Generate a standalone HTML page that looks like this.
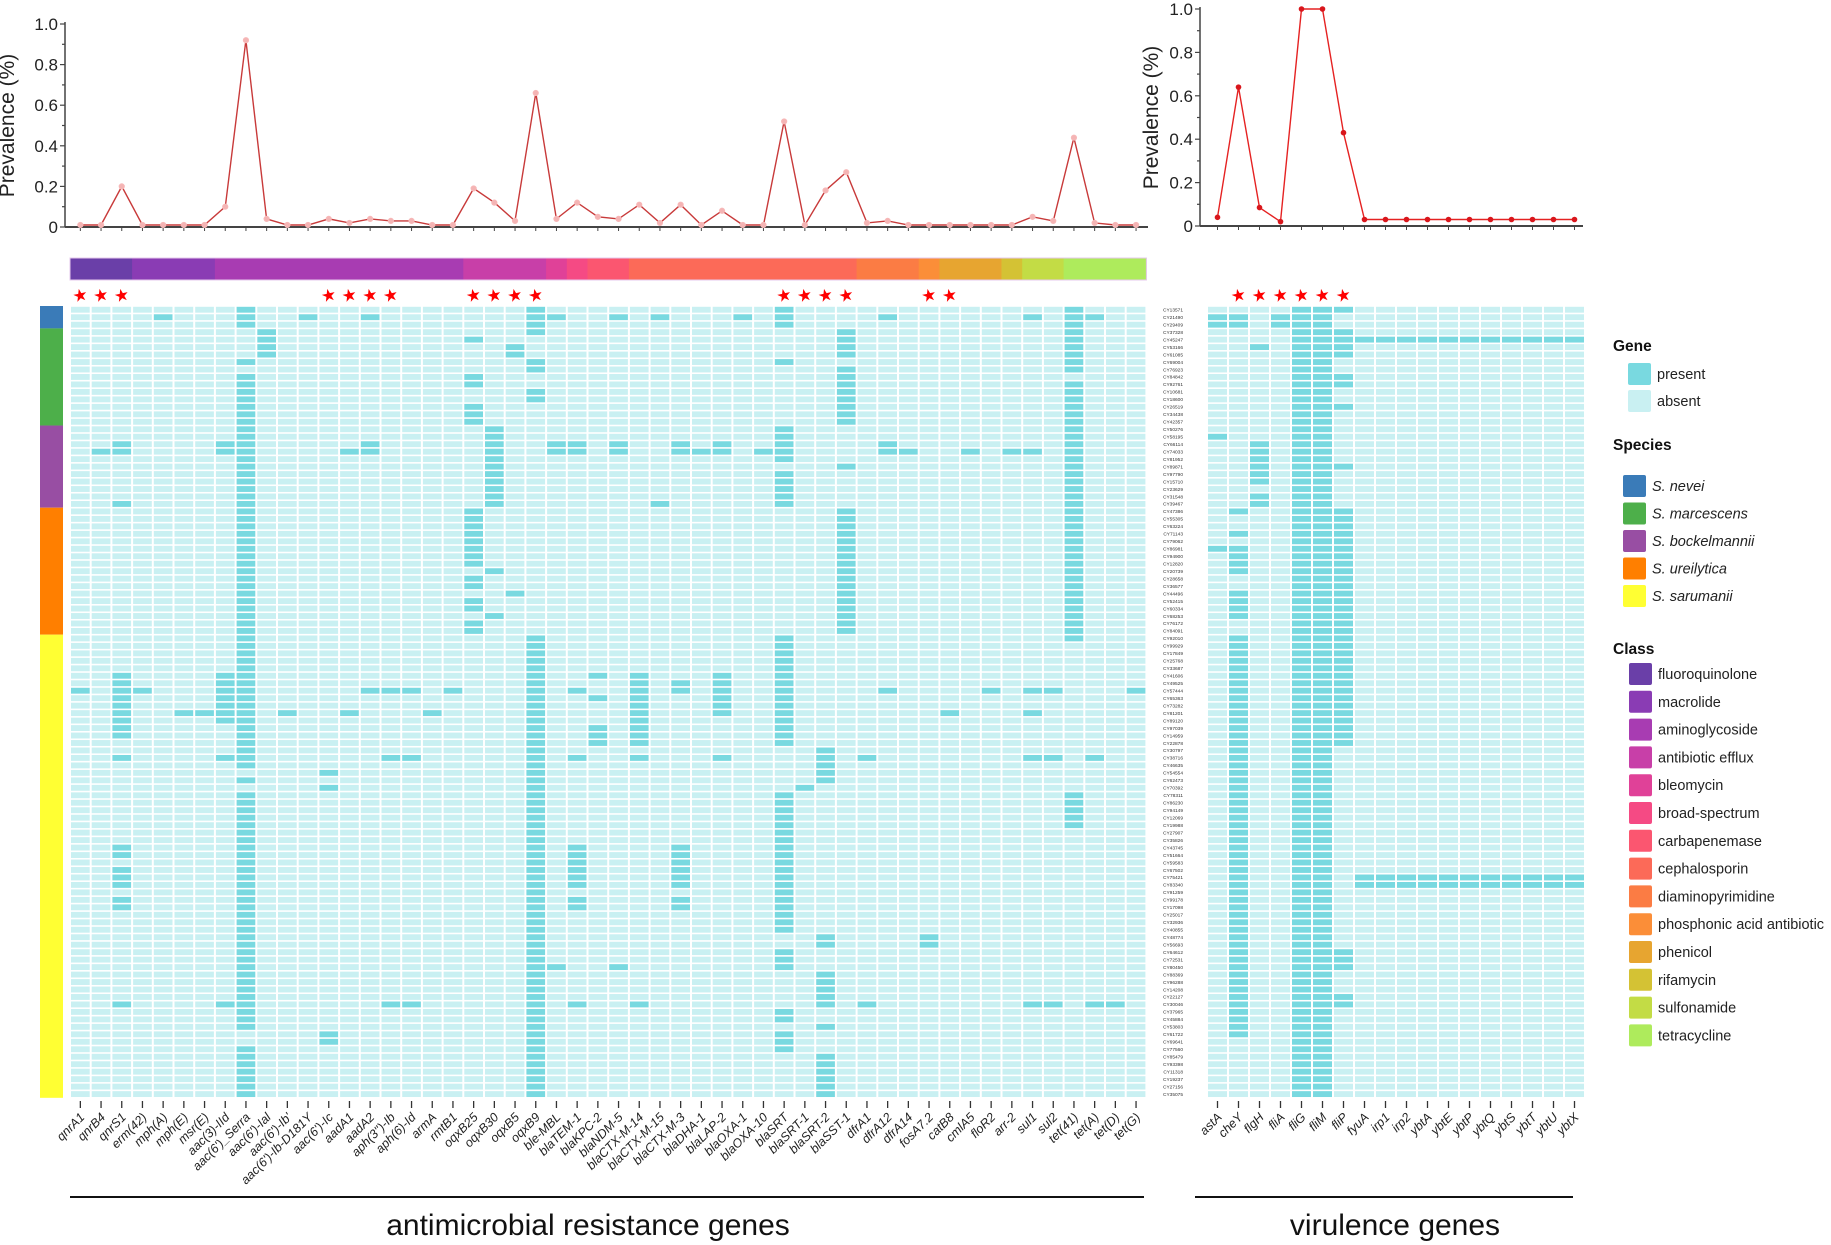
<!DOCTYPE html>
<html><head><meta charset="utf-8"><title>Serratia AMR and virulence gene prevalence</title>
<style>
html,body{margin:0;padding:0;background:#fff;}
svg{display:block;font-family:"Liberation Sans",Arial,sans-serif;}
</style></head>
<body>
<svg id="fig" width="1831" height="1245" viewBox="0 0 1831 1245" xmlns="http://www.w3.org/2000/svg"></svg>
<script>
// ---------- data ----------
const amrGenes = ["qnrA1","qnrB4","qnrS1","erm(42)","mph(A)","mph(E)","msr(E)","aac(3)-IId","aac(6')_Serra","aac(6')-Ial","aac(6')-Ib'","aac(6')-Ib-D181Y","aac(6')-Ic","aadA1","aadA2","aph(3'')-Ib","aph(6)-Id","armA","rmtB1","oqxB25","oqxB30","oqxB5","oqxB9","ble-MBL","blaTEM-1","blaKPC-2","blaNDM-5","blaCTX-M-14","blaCTX-M-15","blaCTX-M-3","blaDHA-1","blaLAP-2","blaOXA-1","blaOXA-10","blaSRT","blaSRT-1","blaSRT-2","blaSST-1","dfrA1","dfrA12","dfrA14","fosA7.2","catB8","cmlA5","floR2","arr-2","sul1","sul2","tet(41)","tet(A)","tet(D)","tet(G)"];
const amrPrevalence = [0.01,0.01,0.2,0.01,0.01,0.01,0.01,0.1,0.92,0.04,0.01,0.01,0.04,0.02,0.04,0.03,0.03,0.01,0.01,0.19,0.12,0.03,0.66,0.04,0.12,0.05,0.04,0.11,0.02,0.11,0.01,0.08,0.01,0.01,0.52,0.01,0.18,0.27,0.02,0.03,0.01,0.01,0.01,0.01,0.01,0.01,0.05,0.03,0.44,0.02,0.01,0.01];
const amrStarred = [0,1,2,12,13,14,15,19,20,21,22,34,35,36,37,41,42];
const amrPresent = ["51","19","18,19,26,49-57,60,72,73,75-77,79,80,93","51","1","54","54","18,19,49-55,60,93","0-2,7,9-61,63,65-96,99-105","3-6","54","1","62,64,97,98","19,54","1,18,19,51","51,60,93","51,60,93","54","51","4,9,10,13-15,27-34,36,37,39,40,42,43","16-26,35,41","5,6,38","0-3,7,8,11,12,44-105","1,18,19,88","18,19,51,60,72-77,79,80,93","49,52,56-58","1,18,19,88","49-58,60,93","1,26","18,19,50,51,72-77,79,80","19","18,19,49-54,60","1","19","0-2,7,16-20,22-26,44-58,65-83,86-88,94,95,97-99","64","59-63,84,85,89-93,96,100-105","3-6,8-15,21,27-43","60,93","1,18,19,51","19","84,85","54","19","51","19","1,19,51,54,60,93","51,60,93","0-8,10-44,65-69","1,60,93","93","51"];
const virGenes = ["astA","cheY","flgH","fliA","fliG","fliM","fliP","fyuA","irp1","irp2","ybtA","ybtE","ybtP","ybtQ","ybtS","ybtT","ybtU","ybtX"];
const virPrevalence = [0.04,0.64,0.085,0.02,1.0,1.0,0.43,0.03,0.03,0.03,0.03,0.03,0.03,0.03,0.03,0.03,0.03,0.03];
const virStarred = [1,2,3,4,5,6];
const virPresent = ["1,2,17,32","1,2,27,30,32-35,38-41,44-97","5,18-23,25,26","1,2","0-105","0-105","0,3-6,9,10,13,21,27-58,86-88,92,93","4,76,77","4,76,77","4,76,77","4,76,77","4,76,77","4,76,77","4,76,77","4,76,77","4,76,77","4,76,77","4,76,77"];
const speciesNames = ["S. nevei","S. marcescens","S. bockelmannii","S. ureilytica","S. sarumanii"];
const speciesCounts = [3,13,11,17,62];
const speciesColors = ["#3a7bb8","#4daf4a","#984ea3","#ff7f00","#ffff33"];
const classNames = ["fluoroquinolone","macrolide","aminoglycoside","antibiotic efflux","bleomycin","broad-spectrum","carbapenemase","cephalosporin","diaminopyrimidine","phosphonic acid antibiotic","phenicol","rifamycin","sulfonamide","tetracycline"];
const classCounts = [3,4,12,4,1,1,2,11,3,1,3,1,2,4];
const classColors = ["#6a3fa8","#8a3cb4","#a83cb2","#c83fa8","#e04198","#f54a84","#fb5670","#fc6a58","#fb7c44","#fb8e38","#e7a530","#d4c234","#c3dc45","#aeeb5c"];
const rowLabels = [];
for (let i = 0; i < 106; i++) { rowLabels.push("CY" + String(10000 + ((i * 7919 + 3571) % 89999)).padStart(5, "0")); }

// ---------- layout ----------
const NS = "http://www.w3.org/2000/svg";
const svg = document.getElementById("fig");
const PRESENT = "#79d9e0", ABSENT = "#c9f0f2";
const amrX0 = 70, amrCW = 20.7, virX0 = 1207, virCW = 21;
const heatY0 = 306, rowH = 7.47, nRows = 106;
function mk(tag, attrs, parent) {
  const e = document.createElementNS(NS, tag);
  for (const k in attrs) e.setAttribute(k, attrs[k]);
  (parent || svg).appendChild(e);
  return e;
}
function parseRows(s) {
  const set = new Set();
  s.split(",").forEach(p => {
    if (!p) return;
    const ab = p.split("-").map(Number);
    if (ab.length === 1) set.add(ab[0]); else for (let r = ab[0]; r <= ab[1]; r++) set.add(r);
  });
  return set;
}
const amrCx = k => amrX0 + amrCW * k + amrCW / 2;
const virCx = k => virX0 + virCW * k + virCW / 2;
const rowY = r => heatY0 + rowH * r;

// ---------- line chart ----------
function lineChart(name, genes, vals, cx, axisX, axisRight, yTop, yBot, lineColor, markerColor, markerType, titleX) {
  const g = mk("g", {});
  
  
  const yS = v => yBot - (yBot - yTop) * v;
  const yAxis = mk("line", {x1: axisX, y1: yTop - 2, x2: axisX, y2: yBot, stroke: "#444", "stroke-width": 1.5}, g);
  
  
  const xAxis = mk("line", {x1: axisX, y1: yBot, x2: axisRight, y2: yBot, stroke: "#444", "stroke-width": 2}, g);
  
  
  for (let i = 0; i <= 10; i++) {
    const v = i / 10, y = yS(v);
    mk("line", {x1: axisX - (i % 2 ? 3 : 5), y1: y, x2: axisX, y2: y, stroke: "#444", "stroke-width": 1.2}, g);
    if (i % 2 === 0) {
      const t = mk("text", {x: axisX - 7, y: y + 6, "text-anchor": "end", "font-size": 17, fill: "#222"}, g);
      t.textContent = i === 0 ? "0" : v.toFixed(1);
      
      
    }
  }
  genes.forEach((gname, k) => {
    mk("line", {x1: cx(k), y1: yBot, x2: cx(k), y2: yBot + 4, stroke: "#444", "stroke-width": 1}, g);
  });
  const title = mk("text", {x: titleX, y: (yTop + yBot) / 2, "text-anchor": "middle", "font-size": 21, fill: "#222", transform: "rotate(-90 " + titleX + " " + (yTop + yBot) / 2 + ")"}, g);
  title.textContent = "Prevalence (%)";
  
  
  const pts = vals.map((v, k) => cx(k).toFixed(1) + "," + yS(v).toFixed(1)).join(" ");
  const pl = mk("polyline", {points: pts, fill: "none", stroke: lineColor, "stroke-width": 1.4}, g);
  
  
  vals.forEach((v, k) => {
    let m;
    if (markerType === "dot") m = mk("circle", {cx: cx(k), cy: yS(v), r: 2.8, fill: markerColor}, g);
    else m = mk("circle", {cx: cx(k), cy: yS(v), r: 2.6, fill: markerColor, stroke: "#f7b8b8", "stroke-width": 1}, g);
    
    
  });
}
lineChart("amr-prevalence-chart", amrGenes, amrPrevalence, amrCx, 65, 1148, 24, 227, "#c83a3a", "#f4b4b4", "star", 14);
lineChart("virulence-prevalence-chart", virGenes, virPrevalence, virCx, 1200, 1583, 9, 226, "#e52222", "#d9161c", "dot", 1158);

// ---------- class color bar ----------
(function () {
  const g = mk("g", {});
  
  
  let c = 0;
  classCounts.forEach((n, i) => {
    const r = mk("rect", {x: amrX0 + c * amrCW, y: 258, width: n * amrCW + 0.5, height: 22, fill: classColors[i]}, g);
    
    
    c += n;
  });
  mk("rect", {x: amrX0, y: 258, width: c * amrCW, height: 22, fill: "none", stroke: "#e6c8ec", "stroke-width": 1}, g);
})();

// ---------- stars ----------
function stars(list, cx) {
  list.forEach(k => {
    const t = mk("text", {x: cx(k), y: 301, "text-anchor": "middle", "font-size": 17, fill: "#ff0000", transform: "rotate(-12 " + cx(k) + " 296)"});
    t.textContent = "★";
    
    
  });
}
stars(amrStarred, amrCx);
stars(virStarred, virCx);

// ---------- species bar ----------
(function () {
  let r0 = 0;
  speciesCounts.forEach((n, i) => {
    const r = mk("rect", {x: 40, y: rowY(r0), width: 23, height: n * rowH, fill: speciesColors[i]});
    
    
    r0 += n;
  });
})();

// ---------- heatmaps ----------
function heatmap(name, genes, present, x0, cw) {
  const g = mk("g", {});
  
  
  genes.forEach((gn, k) => {
    const set = parseRows(present[k]);
    for (let r = 0; r < nRows; r++) {
      const cell = mk("rect", {x: x0 + cw * k + 1, y: rowY(r) + 0.8, width: cw - 2, height: rowH - 1.6, fill: set.has(r) ? PRESENT : ABSENT}, g);
      
      
    }
  });
}
heatmap("amr-heatmap", amrGenes, amrPresent, amrX0, amrCW);
heatmap("virulence-heatmap", virGenes, virPresent, virX0, virCW);

// row labels
rowLabels.forEach((l, r) => {
  const t = mk("text", {x: 1183, y: rowY(r) + 5.5, "text-anchor": "end", "font-size": 4.8, fill: "#333"});
  t.textContent = l;
  
  
});

// ---------- gene labels ----------
function geneLabels(genes, cx) {
  genes.forEach((gn, k) => {
    const x = cx(k);
    const tk = mk("line", {x1: x, y1: 1101, x2: x, y2: 1108, stroke: "#333", "stroke-width": 1.3});
    
    
    const t = mk("text", {x: x + 5, y: 1118, "text-anchor": "end", "font-size": 12.5, "font-style": "italic", fill: "#222", transform: "rotate(-45 " + (x + 5) + " 1118)"});
    t.textContent = gn;
    
    
  });
}
geneLabels(amrGenes, amrCx);
geneLabels(virGenes, virCx);

// group lines and titles
(function () {
  const l1 = mk("line", {x1: 70, y1: 1197, x2: 1144, y2: 1197, stroke: "#111", "stroke-width": 2});
  
  
  const l2 = mk("line", {x1: 1195, y1: 1197, x2: 1573, y2: 1197, stroke: "#111", "stroke-width": 2});
  
  
  const t1 = mk("text", {x: 588, y: 1235, "text-anchor": "middle", "font-size": 30, fill: "#111"});
  t1.textContent = "antimicrobial resistance genes";
  
  
  const t2 = mk("text", {x: 1395, y: 1235, "text-anchor": "middle", "font-size": 30, fill: "#111"});
  t2.textContent = "virulence genes";
  
  
})();

// ---------- legend ----------
(function () {
  const g = mk("g", {});
  
  
  function title(txt, y) {
    const t = mk("text", {x: 1613, y: y, "font-size": 15.5, "font-weight": "bold", fill: "#111"}, g);
    t.textContent = txt;
    
    
  }
  function entry(x, y, color, txt, italic) {
    const r = mk("rect", {x: x, y: y - 11, width: 23, height: 22, rx: 2, fill: color}, g);
    
    
    const t = mk("text", {x: x + 29, y: y + 5, "font-size": 14.5, fill: "#222", "font-style": italic ? "italic" : "normal"}, g);
    t.textContent = txt;
    
    
  }
  title("Gene", 351);
  entry(1628, 374, PRESENT, "present");
  entry(1628, 401, ABSENT, "absent");
  title("Species", 450);
  speciesNames.forEach((s, i) => entry(1623, 486 + i * 27.5, speciesColors[i], s, true));
  title("Class", 654);
  classNames.forEach((s, i) => entry(1629, 674 + i * 27.8, classColors[i], s, false));
})();
</script>
</body></html>
